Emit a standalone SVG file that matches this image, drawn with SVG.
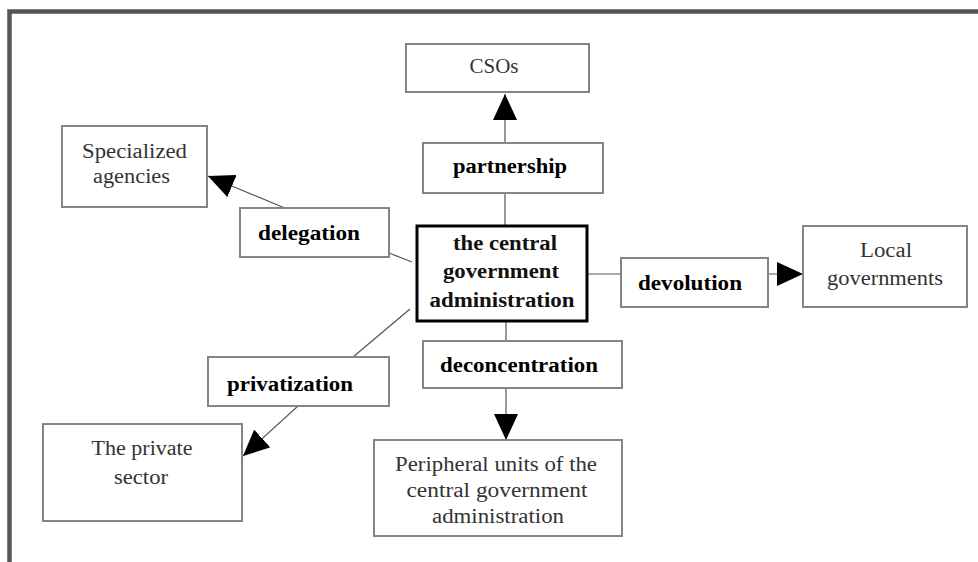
<svg xmlns="http://www.w3.org/2000/svg" width="978" height="562" viewBox="0 0 978 562">
<style>
.box{fill:#fff;stroke:#858585;stroke-width:2}
.main{fill:#fff;stroke:#000;stroke-width:3}
.lab{font-family:"Liberation Serif",serif;font-size:20px;font-weight:bold;fill:#000;text-anchor:middle}
.nt{font-family:"Liberation Serif",serif;font-size:20px;fill:#333;text-anchor:middle}
.mt{font-family:"Liberation Serif",serif;font-size:20px;font-weight:bold;fill:#111;text-anchor:middle}
.con{stroke:#555;stroke-width:1.2;fill:none}
.arr{marker-end:url(#ah)}
</style>
<defs>
<marker id="ah" viewBox="0 0 26 24" refX="26" refY="12" markerWidth="26" markerHeight="24" markerUnits="userSpaceOnUse" orient="auto">
<path d="M0,0 L26,12 L0,24 z" fill="#000"/>
</marker>
</defs>
<rect width="978" height="562" fill="#fff"/>
<path d="M9.5,562 V11.5 H978" fill="none" stroke="#555" stroke-width="4.5"/>

<g id="connectors">
<line class="con" x1="505" y1="226" x2="505" y2="193"/>
<line class="con arr" x1="505" y1="143" x2="505" y2="94"/>
<line class="con" x1="412" y1="262" x2="389" y2="253"/>
<line class="con arr" x1="287" y1="209" x2="208" y2="176"/>
<line class="con" x1="587" y1="274" x2="621" y2="274"/>
<line class="con arr" x1="768" y1="274" x2="803" y2="274"/>
<line class="con" x1="506" y1="321" x2="506" y2="341"/>
<line class="con arr" x1="506" y1="388" x2="506" y2="440"/>
<line class="con" x1="410" y1="309" x2="353" y2="357"/>
<line class="con arr" x1="298" y1="406" x2="243" y2="456"/>
</g>

<g id="csos">
<rect class="box" x="406" y="44" width="183" height="48"/>
<text class="nt" x="494" y="73" textLength="49" lengthAdjust="spacingAndGlyphs">CSOs</text>
</g>
<g id="partnership">
<rect class="box" x="423" y="143" width="180" height="50"/>
<text class="lab" x="510" y="173" textLength="114" lengthAdjust="spacingAndGlyphs">partnership</text>
</g>
<g id="specialized">
<rect class="box" x="62" y="126" width="145" height="81"/>
<text class="nt" x="134.5" y="158" textLength="105" lengthAdjust="spacingAndGlyphs">Specialized</text>
<text class="nt" x="131.5" y="183" textLength="77" lengthAdjust="spacingAndGlyphs">agencies</text>
</g>
<g id="delegation">
<rect class="box" x="240" y="208" width="149" height="49"/>
<text class="lab" x="309" y="240" textLength="102" lengthAdjust="spacingAndGlyphs">delegation</text>
</g>
<g id="central">
<rect class="main" x="417" y="226" width="170" height="95"/>
<text class="mt" x="505" y="250" textLength="104" lengthAdjust="spacingAndGlyphs">the central</text>
<text class="mt" x="501" y="278" textLength="116" lengthAdjust="spacingAndGlyphs">government</text>
<text class="mt" x="502" y="307" textLength="145" lengthAdjust="spacingAndGlyphs">administration</text>
</g>
<g id="devolution">
<rect class="box" x="621" y="258" width="147" height="49"/>
<text class="lab" x="690" y="290" textLength="104" lengthAdjust="spacingAndGlyphs">devolution</text>
</g>
<g id="local">
<rect class="box" x="803" y="226" width="164" height="81"/>
<text class="nt" x="886" y="257" textLength="52" lengthAdjust="spacingAndGlyphs">Local</text>
<text class="nt" x="885" y="285" textLength="116" lengthAdjust="spacingAndGlyphs">governments</text>
</g>
<g id="deconcentration">
<rect class="box" x="423" y="341" width="199" height="47"/>
<text class="lab" x="519" y="372" textLength="158" lengthAdjust="spacingAndGlyphs">deconcentration</text>
</g>
<g id="privatization">
<rect class="box" x="208" y="357" width="181" height="49"/>
<text class="lab" x="290" y="391" textLength="126" lengthAdjust="spacingAndGlyphs">privatization</text>
</g>
<g id="private">
<rect class="box" x="43" y="424" width="199" height="97"/>
<text class="nt" x="142" y="455" textLength="101" lengthAdjust="spacingAndGlyphs">The private</text>
<text class="nt" x="141" y="484" textLength="54" lengthAdjust="spacingAndGlyphs">sector</text>
</g>
<g id="peripheral">
<rect class="box" x="374" y="440" width="248" height="96"/>
<text class="nt" x="496" y="471" textLength="202" lengthAdjust="spacingAndGlyphs">Peripheral units of the</text>
<text class="nt" x="497" y="497" textLength="181" lengthAdjust="spacingAndGlyphs">central government</text>
<text class="nt" x="498" y="523" textLength="132" lengthAdjust="spacingAndGlyphs">administration</text>
</g>
</svg>
